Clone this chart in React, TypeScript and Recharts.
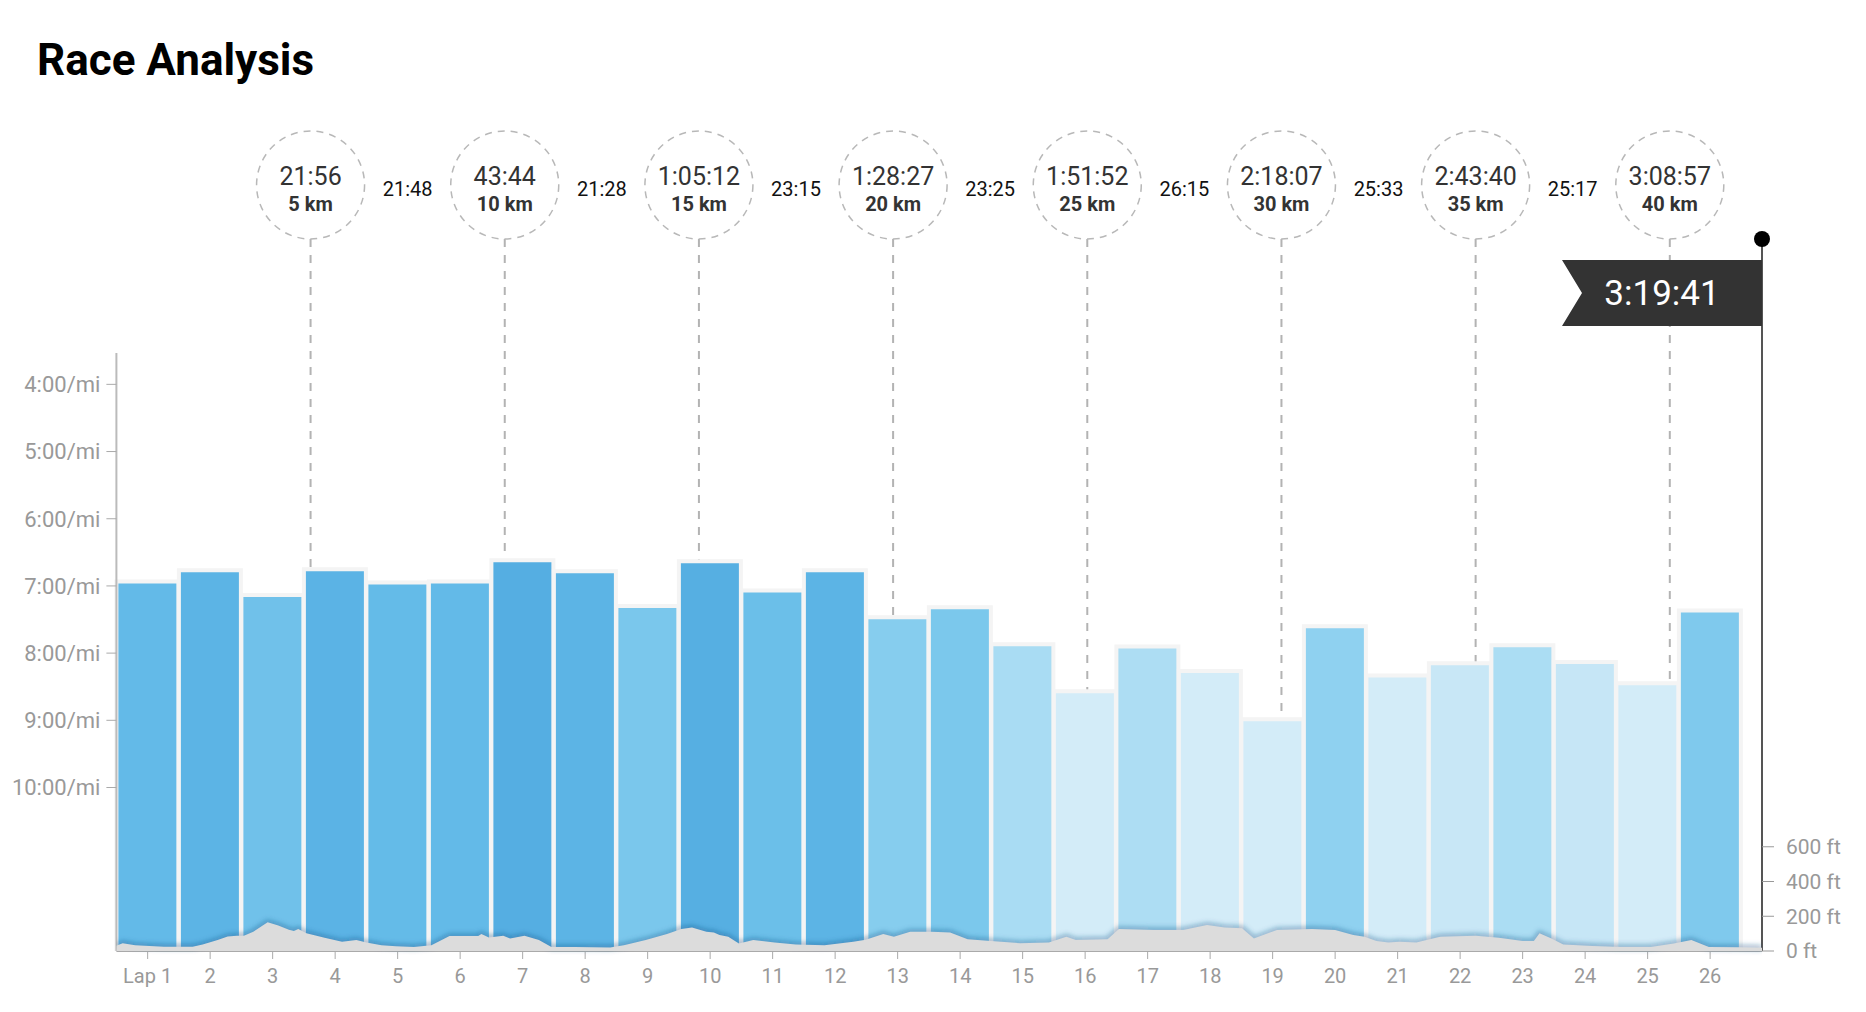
import React from 'react';
import { ComposedChart, Bar, Cell, XAxis, YAxis, Area, Line, ReferenceLine } from 'recharts';

const lapLabels = ['Lap 1', '2', '3', '4', '5', '6', '7', '8', '9', '10', '11', '12', '13', '14', '15', '16', '17', '18', '19', '20', '21', '22', '23', '24', '25', '26'];
const lapPaces = ['6:56', '6:46', '7:08', '6:45', '6:57', '6:56', '6:37', '6:47', '7:18', '6:38', '7:04', '6:46', '7:28', '7:19', '7:52', '8:34', '7:54', '8:16', '8:59', '7:36', '8:20', '8:09', '7:53', '8:08', '8:27', '7:22'];
const paceTicks = ['4:00', '5:00', '6:00', '7:00', '8:00', '9:00', '10:00'];

const splitKm = [5, 10, 15, 20, 25, 30, 35, 40];
const splitElapsed = ['21:56', '43:44', '1:05:12', '1:28:27', '1:51:52', '2:18:07', '2:43:40', '3:08:57'];
const splitSegments = ['21:48', '21:28', '23:15', '23:25', '26:15', '25:33', '25:17'];
const finishTime = '3:19:41';
const gpsDistanceMi = 26.33;

const elevationTicksFt = [0, 200, 400, 600];
// [mile, feet]
const elevationProfile: [number, number][] = [
  [0, 30], [0.1, 45], [0.3, 33], [0.76, 25], [1.0, 25], [1.22, 25], [1.38, 37], [1.62, 63], [1.78, 84], [1.93, 88],
  [2.04, 88], [2.19, 111], [2.42, 166], [2.59, 147], [2.76, 123], [2.84, 115], [2.91, 127], [3.04, 102], [3.33, 76],
  [3.61, 53], [3.84, 63], [4.0, 49], [4.24, 33], [4.47, 27], [4.76, 23], [5.04, 33], [5.33, 86], [5.79, 86], [5.84, 98],
  [5.96, 78], [6.19, 88], [6.3, 72], [6.53, 88], [6.76, 63], [6.96, 23], [7.33, 23], [7.9, 20], [8.12, 33], [8.47, 63],
  [8.81, 98], [9.04, 127], [9.21, 135], [9.44, 111], [9.56, 107], [9.65, 92], [9.79, 82], [9.96, 43], [10.19, 63],
  [10.53, 49], [10.87, 37], [11.33, 33], [11.79, 53], [11.99, 65], [12.27, 98], [12.44, 82], [12.7, 111], [13.04, 111],
  [13.34, 107], [13.62, 68], [13.99, 57], [14.46, 45], [14.92, 49], [15.2, 82], [15.35, 63], [15.86, 68], [16.04, 127],
  [16.6, 121], [17.07, 121], [17.45, 150], [17.73, 135], [18.01, 131], [18.2, 72], [18.57, 121], [19.13, 127], [19.5, 121],
  [19.79, 92], [19.97, 82], [20.16, 57], [20.35, 49], [20.53, 53], [20.8, 49], [21.18, 82], [21.75, 88], [22.12, 76],
  [22.5, 57], [22.68, 57], [22.77, 102], [22.96, 72], [23.15, 37], [23.62, 29], [24.08, 23], [24.55, 23], [24.92, 43],
  [25.2, 63], [25.48, 23], [25.95, 21], [26.33, 19],
];

// --- layout ---
const W = 1866;
const H = 1012;
const PLOT_LEFT = 116.4;
const PLOT_RIGHT = 1762;
const PLOT_BOTTOM = 951;
const FONT = 'Roboto, "Noto Sans", sans-serif';
const paceDomain = [212, 746]; // seconds per mile, top -> bottom
const elevDomain = [0, 3500];

const toSec = (s: string) => s.split(':').reduce((acc, p) => acc * 60 + Number(p), 0);
const fmtPace = (sec: number) => `${Math.floor(sec / 60)}:${String(sec % 60).padStart(2, '0')}/mi`;

// faster laps are darker
const paceStops: [number, string][] = [
  [397, '#55aee2'], [416, '#63bae8'], [438, '#7ac7ec'], [456, '#8fd1f0'],
  [472, '#a9dcf3'], [488, '#c6e6f6'], [496, '#d3ecf8'],
];
const hex = (c: string) => [1, 3, 5].map((i) => parseInt(c.slice(i, i + 2), 16));
function paceColor(sec: number) {
  if (sec <= paceStops[0][0]) return paceStops[0][1];
  for (let i = 1; i < paceStops.length; i++) {
    const [s1, c1] = paceStops[i];
    if (sec <= s1) {
      const [s0, c0] = paceStops[i - 1];
      const t = (sec - s0) / (s1 - s0);
      const a = hex(c0), b = hex(c1);
      return `rgb(${a.map((v, k) => Math.round(v + (b[k] - v) * t)).join(',')})`;
    }
  }
  return paceStops[paceStops.length - 1][1];
}

const lapData = lapLabels.map((label, i) => ({ label, pace: toSec(lapPaces[i]) }));
const elevData = elevationProfile.map(([mile, ft]) => ({ mile, ft }));
const kmToMi = (km: number) => km / 1.609344;

const plotWidth = PLOT_RIGHT - PLOT_LEFT;
const lapPadRight = plotWidth - (lapLabels.length * plotWidth) / gpsDistanceMi;

const layer: React.CSSProperties = { position: 'absolute', left: 0, top: 0 };

export default function App() {
  const splitMarker = (elapsed: string, km: number) => (props: any) => {
    const { x, y } = props.viewBox;
    return (
      <g>
        <circle cx={x} cy={y - 54} r={54} fill="#fff" stroke="#b8b8b8" strokeWidth={1.5} strokeDasharray="7 6" />
        <text x={x} y={y - 54} textAnchor="middle" fontSize={25} fill="#333" fontFamily={FONT}>{elapsed}</text>
        <text x={x} y={y - 28} textAnchor="middle" fontSize={20} fontWeight={700} fill="#333" fontFamily={FONT}>{km} km</text>
      </g>
    );
  };

  const segmentLabel = (text: string) => (props: any) => {
    const { x, y } = props.viewBox;
    return (
      <text x={x} y={y - 43} textAnchor="middle" fontSize={20} fill="#111" fontFamily={FONT}>{text}</text>
    );
  };

  const finishFlag = (props: any) => {
    const { x, y } = props.viewBox;
    return (
      <g>
        <polygon
          points={`${x},${y + 21} ${x - 200},${y + 21} ${x - 180},${y + 54} ${x - 200},${y + 87} ${x},${y + 87}`}
          fill="#333"
        />
        <text x={x - 100} y={y + 66} textAnchor="middle" fontSize={35} fill="#fff" fontFamily={FONT}>{finishTime}</text>
        <circle cx={x} cy={y} r={8} fill="#000" />
      </g>
    );
  };

  return (
    <div style={{ position: 'absolute', left: 0, top: 0, width: W, height: H, background: '#fff', overflow: 'hidden' }}>
      <style>{'.elev-shadow path { filter: url(#elevBlur); }'}</style>
      <div
        style={{
          position: 'absolute', left: 37, top: 39, fontFamily: FONT, fontWeight: 700,
          fontSize: 44, lineHeight: '43px', color: '#000',
        }}
      >
        Race Analysis
      </div>

      {/* split markers and dashed guides (behind the bars) */}
      <div style={layer}>
        <ComposedChart
          width={W}
          height={H}
          data={[{ mile: 0, y: 0 }, { mile: gpsDistanceMi, y: 0 }]}
          margin={{ top: 239, right: W - PLOT_RIGHT, bottom: H - PLOT_BOTTOM, left: PLOT_LEFT }}
        >
          <XAxis type="number" dataKey="mile" domain={[0, gpsDistanceMi]} hide />
          <YAxis type="number" domain={[0, 1]} hide />
          <Line dataKey="y" stroke="none" dot={false} activeDot={false} isAnimationActive={false} />
          {splitKm.map((km, i) => (
            <ReferenceLine
              key={`s${km}`}
              x={kmToMi(km)}
              stroke="#b3b3b3"
              strokeWidth={2}
              strokeDasharray="8 8"
              label={splitMarker(splitElapsed[i], km)}
            />
          ))}
          {splitSegments.map((seg, i) => (
            <ReferenceLine
              key={`g${i}`}
              x={(kmToMi(splitKm[i]) + kmToMi(splitKm[i + 1])) / 2}
              stroke="none"
              label={segmentLabel(seg)}
            />
          ))}
          <ReferenceLine x={gpsDistanceMi} stroke="#555" strokeWidth={2} label={finishFlag} />
        </ComposedChart>
      </div>

      {/* lap pace bars */}
      <div style={layer}>
        <ComposedChart
          width={W}
          height={H}
          data={lapData}
          barCategoryGap={0}
          barGap={0}
          margin={{ top: 353, right: W - PLOT_RIGHT, bottom: H - PLOT_BOTTOM - 40, left: PLOT_LEFT - 100 }}
        >
          <XAxis
            dataKey="label"
            type="category"
            height={40}
            interval={0}
            padding={{ left: 0, right: lapPadRight }}
            axisLine={{ stroke: '#aaa', strokeWidth: 2 }}
            tickLine={{ stroke: '#aaa' }}
            tickSize={8}
            tickMargin={10}
            tick={{ fontSize: 20, fill: '#999', fontFamily: FONT }}
          />
          <YAxis
            type="number"
            reversed
            allowDataOverflow
            domain={paceDomain}
            ticks={paceTicks.map(toSec)}
            tickFormatter={fmtPace}
            width={100}
            axisLine={{ stroke: '#bbb', strokeWidth: 2 }}
            tickLine={{ stroke: '#aaa' }}
            tickSize={10}
            tickMargin={6}
            tick={{ fontSize: 22, fill: '#999', fontFamily: FONT }}
          />
          <Bar
            dataKey={(d: any) => [paceDomain[1], d.pace]}
            stroke="#f4f4f4"
            strokeWidth={4}
            isAnimationActive={false}
          >
            {lapData.map((d) => (
              <Cell key={d.label} fill={paceColor(d.pace)} />
            ))}
          </Bar>
        </ComposedChart>
      </div>

      {/* elevation profile over the bars */}
      <div style={layer}>
        <ComposedChart
          width={W}
          height={H}
          data={elevData}
          margin={{ top: 343, right: W - PLOT_RIGHT - 100, bottom: H - PLOT_BOTTOM, left: PLOT_LEFT }}
        >
          <defs>
            <filter id="elevBlur" x="-5%" y="-50%" width="110%" height="200%">
              <feGaussianBlur stdDeviation="2.5" />
            </filter>
          </defs>
          <XAxis type="number" dataKey="mile" domain={[0, gpsDistanceMi]} allowDataOverflow hide />
          <YAxis
            orientation="right"
            type="number"
            domain={elevDomain}
            ticks={elevationTicksFt}
            tickFormatter={(v: number) => `${v} ft`}
            width={100}
            axisLine={false}
            tickLine={{ stroke: '#999' }}
            tickSize={12}
            tickMargin={12}
            tick={{ fontSize: 21, fill: '#999', fontFamily: FONT }}
          />
          <Area
            className="elev-shadow"
            type="linear"
            dataKey="ft"
            fill="none"
            stroke="#174f82"
            strokeOpacity={0.4}
            strokeWidth={5}
            dot={false}
            activeDot={false}
            isAnimationActive={false}
          />
          <Area
            type="linear"
            dataKey="ft"
            fill="#dcdcdc"
            fillOpacity={1}
            stroke="none"
            dot={false}
            activeDot={false}
            isAnimationActive={false}
          />
        </ComposedChart>
      </div>
    </div>
  );
}
